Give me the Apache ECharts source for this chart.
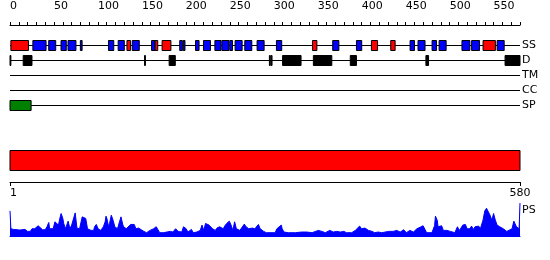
<!DOCTYPE html>
<html>
<head>
<meta charset="utf-8">
<script src="https://cdn.jsdelivr.net/npm/echarts@6/dist/echarts.min.js"></script>
<style>html,body{margin:0;padding:0;background:#fff;}#c{width:550px;height:260px;}</style>
</head>
<body>
<div id="c"></div>
<script>
// ---- data ----
const seqLength = 580;
const topTickLabels = [0,50,100,150,200,250,300,350,400,450,500,550];
const bottomTickLabels = [1,580];
const trackNames = ['SS','D','TM','CC','SP'];

// secondary structure elements (H = red, E = blue)
const ssStart = [2,27,45,59,67,81,113,124,134,140,162,166,174,194,198,212,221,234,242,251,257,268,282,304,345,368,395,412,434,456,465,481,489,515,526,539,555];
const ssEnd   = [21,41,52,64,75,82,118,130,137,147,165,168,183,196,199,215,228,240,249,253,264,275,289,309,349,374,400,418,438,460,472,485,496,523,534,552,562];
const ssType  = ['H','E','E','E','E','E','E','E','H','E','E','H','H','E','E','E','E','E','E','E','E','E','E','E','H','E','E','H','H','E','E','E','E','E','E','H','E'];

// disordered regions
const dStart = [1,16,154,182,296,298,311,346,388,474,564];
const dEnd   = [1,25,154,188,296,298,331,366,394,476,580];

// signal peptide
const spStart = [1];
const spEnd   = [24];

// domain bar
const domStart = [1];
const domEnd   = [580];

// PS profile
const psPos = [1,2,5,9,12,18,21,24,26,29,33,35,38,41,43,45,46,50,52,54,56,58,59,61,62,64,65,67,69,71,73,75,77,80,83,85,87,89,93,96,97,99,101,104,107,109,110,111,113,114,116,118,120,123,125,127,129,130,133,135,138,140,142,144,147,149,150,153,156,160,164,167,169,171,175,179,183,186,189,192,196,198,201,203,207,209,213,217,219,221,223,225,227,229,231,234,236,238,239,241,243,245,247,250,252,254,256,258,260,262,264,267,269,272,273,276,279,281,283,285,287,289,292,302,304,306,309,310,312,317,325,332,334,338,340,344,351,355,359,364,368,372,376,380,383,389,393,395,398,400,402,404,406,408,412,415,419,423,431,432,436,440,444,448,451,455,459,463,465,467,468,470,472,474,476,480,483,484,486,487,489,491,493,495,497,499,501,503,506,509,511,513,515,518,520,521,523,525,527,529,531,533,535,537,538,540,542,544,546,548,550,552,554,555,557,559,561,563,565,567,571,573,574,576,578,579,580];
const psVal = [0.76,0.22,0.20,0.19,0.18,0.20,0.14,0.14,0.22,0.22,0.31,0.28,0.19,0.19,0.28,0.41,0.22,0.22,0.43,0.45,0.33,0.58,0.68,0.53,0.38,0.22,0.28,0.45,0.22,0.33,0.28,0.70,0.24,0.22,0.58,0.56,0.53,0.22,0.17,0.17,0.28,0.35,0.22,0.17,0.28,0.43,0.60,0.53,0.28,0.38,0.63,0.48,0.28,0.22,0.22,0.58,0.35,0.28,0.22,0.28,0.35,0.31,0.35,0.22,0.24,0.22,0.19,0.14,0.10,0.17,0.22,0.28,0.22,0.10,0.10,0.12,0.14,0.12,0.22,0.14,0.12,0.28,0.22,0.12,0.20,0.10,0.12,0.17,0.33,0.17,0.38,0.43,0.33,0.38,0.22,0.17,0.24,0.22,0.28,0.31,0.22,0.31,0.38,0.45,0.33,0.17,0.43,0.22,0.24,0.17,0.22,0.36,0.28,0.22,0.20,0.24,0.22,0.28,0.35,0.22,0.17,0.14,0.10,0.10,0.22,0.24,0.33,0.22,0.12,0.10,0.10,0.12,0.17,0.12,0.15,0.10,0.17,0.14,0.10,0.17,0.12,0.14,0.12,0.14,0.10,0.10,0.17,0.12,0.30,0.22,0.28,0.24,0.22,0.17,0.14,0.10,0.12,0.10,0.14,0.17,0.14,0.17,0.12,0.19,0.10,0.17,0.12,0.22,0.17,0.27,0.24,0.31,0.28,0.10,0.07,0.10,0.31,0.60,0.48,0.28,0.22,0.31,0.17,0.22,0.17,0.20,0.14,0.12,0.10,0.28,0.17,0.24,0.33,0.35,0.22,0.28,0.22,0.30,0.20,0.28,0.22,0.30,0.22,0.28,0.48,0.76,0.84,0.84,0.63,0.48,0.68,0.48,0.33,0.38,0.28,0.33,0.22,0.17,0.14,0.12,0.22,0.45,0.43,0.28,0.22,0.22,1.00];

// ---- styles ----
const FONT = 'DejaVu Sans';
const typeColor = {H:'#ff0000', E:'#0000ff', D:'#000000', SP:'#008000', DOM:'#ff0000'};

const chart = echarts.init(document.getElementById('c'), null, {renderer:'canvas'});

function boxItem(h){
  return function(params, api){
    const row = api.value(2);
    const p1 = api.coord([api.value(0)-1, row]);
    const p2 = api.coord([api.value(1), row]);
    const y = Math.floor(p1[1]-h/2)+0.5;
    return {type:'rect', shape:{x:p1[0], y:y, width:Math.max(p2[0]-p1[0],0.5), height:h},
            style:{fill:api.visual('color'), stroke:'#000', lineWidth:1}};
  };
}
function boxes(starts, ends, row, colorFn){
  return starts.map((s,i)=>({value:[s, ends[i], row], itemStyle:{color:colorFn(i)}}));
}

const ssData = boxes(ssStart, ssEnd, 0, i=>typeColor[ssType[i]]);
const dData = boxes(dStart, dEnd, 1, ()=>typeColor.D);
const spData = boxes(spStart, spEnd, 4, ()=>typeColor.SP);
const domData = boxes(domStart, domEnd, 0, ()=>typeColor.DOM);

const hidden = {show:false};
const option = {
  animation:false,
  backgroundColor:'#fff',
  textStyle:{fontFamily:FONT},
  grid:[
    {left:10, width:510, top:15, height:10},
    {left:10, width:510, top:38, height:75},
    {left:10, width:510, top:150, height:20},
    {left:10, width:510, top:172, height:10},
    {left:10, width:510, top:203, height:33}
  ],
  xAxis:[
    {gridIndex:0, type:'value', position:'top', min:0, max:seqLength, interval:10,
     axisLine:{show:true, lineStyle:{color:'#000', width:1}},
     axisTick:{show:true, length:3, lineStyle:{color:'#000'}},
     axisLabel:{show:true, align:'left', margin:3, fontSize:11, color:'#000', fontFamily:FONT,
                formatter:v=>topTickLabels.indexOf(v)>=0 ? String(v) : ''},
     splitLine:hidden},
    {gridIndex:1, type:'value', min:0, max:seqLength, show:false},
    {gridIndex:2, type:'value', min:0, max:seqLength, show:false},
    {gridIndex:3, type:'value', position:'bottom', min:1, max:seqLength,
     axisLine:{show:true, lineStyle:{color:'#000', width:1}},
     axisTick:{show:true, length:4, customValues:bottomTickLabels, lineStyle:{color:'#000'}},
     axisLabel:{show:true, margin:6, fontSize:11, color:'#000', fontFamily:FONT, customValues:bottomTickLabels,
                alignMinLabel:'left'},
     splitLine:hidden},
    {gridIndex:4, type:'value', min:1, max:seqLength,
     axisLine:{show:true, onZero:false, lineStyle:{color:'#0000ff', width:1}},
     axisTick:hidden, axisLabel:hidden, splitLine:hidden}
  ],
  yAxis:[
    {gridIndex:0, type:'value', show:false},
    {gridIndex:1, type:'category', data:trackNames, inverse:true, position:'right',
     axisLine:hidden, axisTick:hidden, splitLine:hidden,
     axisLabel:{show:true, margin:2, fontSize:11, color:'#000', fontFamily:FONT}},
    {gridIndex:2, type:'category', data:['dom'], show:false},
    {gridIndex:3, type:'value', show:false},
    {gridIndex:4, type:'value', min:0, max:1, show:false}
  ],
  series:[
    {type:'custom', xAxisIndex:1, yAxisIndex:1, silent:true, clip:false,
     data:trackNames.map((n,i)=>[0, seqLength, i]),
     renderItem:function(params, api){
       const p1 = api.coord([api.value(0), api.value(2)]);
       const p2 = api.coord([api.value(1), api.value(2)]);
       const y = Math.floor(p1[1])+0.5;
       return {type:'line', shape:{x1:p1[0], y1:y, x2:p2[0], y2:y}, style:{stroke:'#000', lineWidth:1}};
     }},
    {type:'custom', xAxisIndex:1, yAxisIndex:1, clip:false, data:ssData, renderItem:boxItem(10)},
    {type:'custom', xAxisIndex:1, yAxisIndex:1, clip:false, data:dData, renderItem:boxItem(10)},
    {type:'custom', xAxisIndex:1, yAxisIndex:1, clip:false, data:spData, renderItem:boxItem(10)},
    {type:'custom', xAxisIndex:2, yAxisIndex:2, clip:false, data:domData, renderItem:boxItem(20)},
    {type:'line', xAxisIndex:4, yAxisIndex:4, data:psPos.map((p,i)=>[p, psVal[i]]),
     symbol:'none', sampling:null, smooth:false,
     lineStyle:{color:'#0000ff', width:1}, areaStyle:{color:'#0000ff', opacity:1}}
  ],
  graphic:[
    {type:'text', left:522, top:205, style:{text:'PS', fontSize:11, fill:'#000', fontFamily:FONT}}
  ]
};
chart.setOption(option);
</script>
</body>
</html>
